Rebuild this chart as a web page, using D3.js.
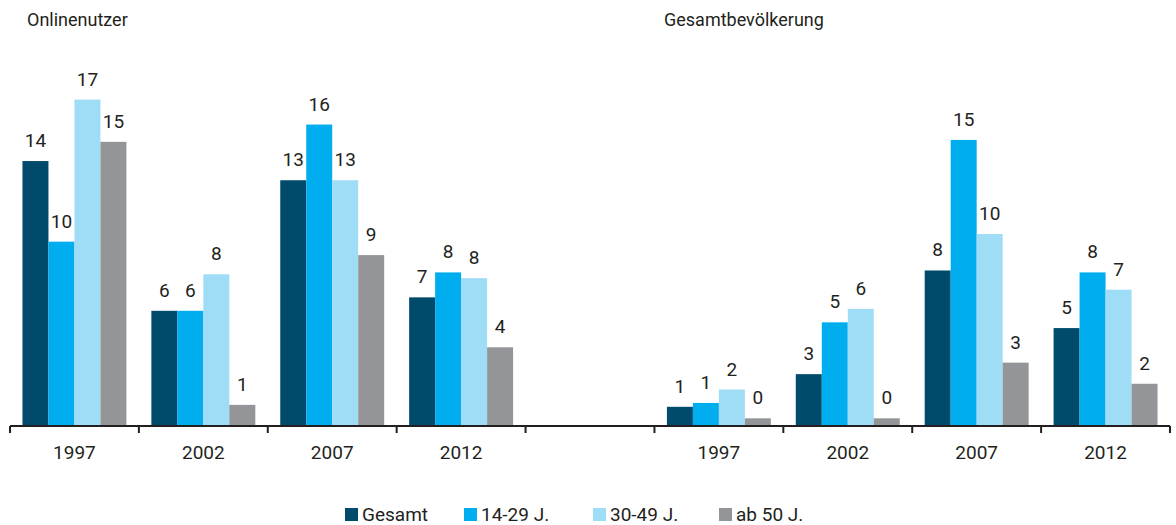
<!DOCTYPE html>
<html>
<head>
<meta charset="utf-8">
<script src="https://cdn.jsdelivr.net/npm/d3@7"></script>
<style>
  body { margin: 0; background: #fff; }
  svg text { font-family: "Liberation Sans Narrow", "Roboto", sans-serif; fill: #231f20; }
</style>
</head>
<body>
<svg id="chart" width="1176" height="525"></svg>
<script>
// Data
const years = ['1997', '2002', '2007', '2012']
const panels = ['Onlinenutzer', 'Gesamtbevölkerung']
const series = ['Gesamt', '14-29 J.', '30-49 J.', 'ab 50 J.']
const colors = ['#004b6b', '#00aeef', '#9fdcf6', '#939598']
// values per year, order as series
const online = [
    [13.8, 9.6, 17.0, 14.8],
    [6.0, 6.0, 7.9, 1.1],
    [12.8, 15.7, 12.8, 8.9],
    [6.7, 8.0, 7.7, 4.1]
]
const gesamt = [
    [1.0, 1.2, 1.9, 0.4],
    [2.7, 5.4, 6.1, 0.4],
    [8.1, 14.9, 10.0, 3.3],
    [5.1, 8.0, 7.1, 2.2]
]

const svg = d3.select('#chart')
const keys = years.map(y => 'a' + y).concat(['gap'], years.map(y => 'b' + y))
const x0 = d3.scaleBand().domain(keys).range([10, 1170]).padding(0)
const x1 = d3.scaleBand().domain(series).range([0, x0.bandwidth()]).paddingInner(0).paddingOuter(0.48)
const y = d3.scaleLinear().domain([0, 20]).range([426, 42])

const rows = []
years.forEach((yr, i) => {
    series.forEach((s, j) => {
        rows.push({key: 'a' + yr, s: s, c: colors[j], v: online[i][j]})
        rows.push({key: 'b' + yr, s: s, c: colors[j], v: gesamt[i][j]})
    })
})

/* Bars */
svg.append('g').selectAll('rect').data(rows).enter()
    .append('rect')
    .attr('x', d => x0(d.key) + x1(d.s))
    .attr('width', x1.bandwidth())
    .attr('y', d => y(d.v))
    .attr('height', d => y(0) - y(d.v))
    .attr('fill', d => d.c)

/* Value labels */
svg.append('g').selectAll('text').data(rows).enter()
    .append('text')
    .text(d => Math.round(d.v))
    .attr('x', d => x0(d.key) + x1(d.s) + x1.bandwidth() / 2)
    .attr('y', d => y(d.v) - 14)
    .attr('text-anchor', 'middle')
    .style('font-size', '19px')

/* Axis */
const ax = svg.append('g')
ax.append('line')
    .attr('x1', 10).attr('x2', 1170).attr('y1', y(0)).attr('y2', y(0))
    .attr('stroke', '#231f20').attr('stroke-width', 2)
const edges = keys.map(k => x0(k)).concat([x0.range()[1]])
ax.selectAll('.tick').data(edges).enter()
    .append('line')
    .attr('x1', d => d).attr('x2', d => d)
    .attr('y1', y(0)).attr('y2', y(0) + 7)
    .attr('stroke', '#231f20').attr('stroke-width', 2)
ax.selectAll('.lbl').data(keys.filter(k => k !== 'gap')).enter()
    .append('text')
    .text(k => k.slice(1))
    .attr('x', k => x0(k) + x0.bandwidth() / 2)
    .attr('y', 459)
    .attr('text-anchor', 'middle')
    .style('font-size', '19px')

/* Panel titles */
svg.selectAll('.title').data(panels).enter()
    .append('text')
    .text(d => d)
    .attr('x', (d, i) => i ? 664 : 27)
    .attr('y', 26)
    .style('font-size', '18px')

/* Legend */
const legX = [345, 464, 593, 719]
const leg = svg.append('g').selectAll('g').data(series).enter()
    .append('g')
    .attr('transform', (d, i) => `translate(${legX[i]}, 508)`)
leg.append('rect').attr('width', 13).attr('height', 13).attr('fill', (d, i) => colors[i])
leg.append('text').text(d => d).attr('x', 17).attr('y', 13).style('font-size', '19px')
</script>
</body>
</html>
